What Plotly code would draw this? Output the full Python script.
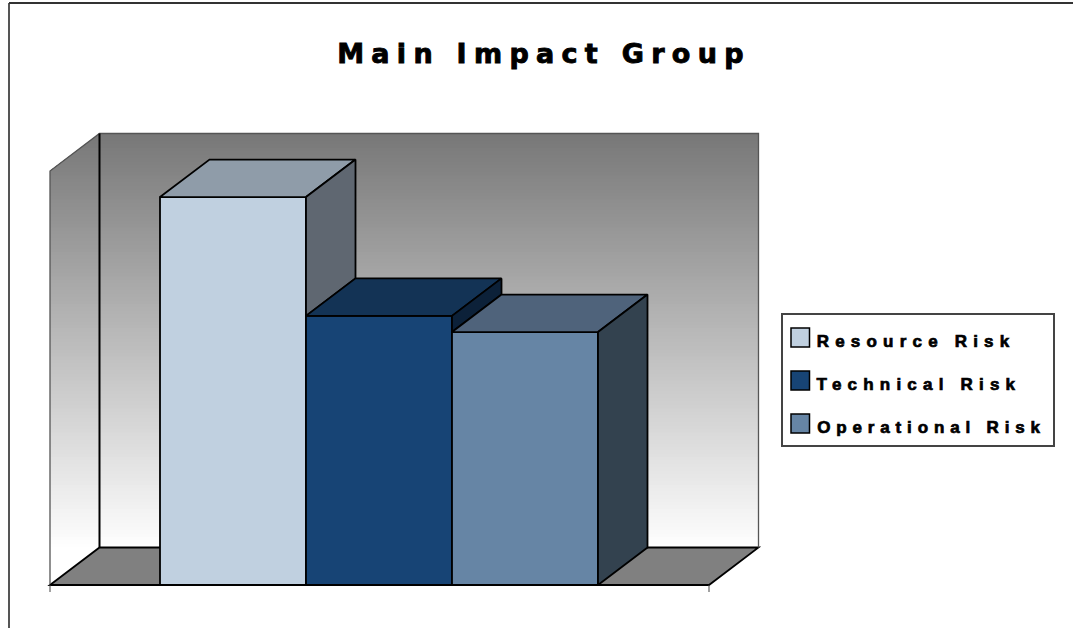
import plotly.graph_objects as go

TITLE = "Main Impact Group"
SERIES = ["Resource Risk", "Technical Risk", "Operational Risk"]
VALUES = [93.7, 65.0, 61.1]
FRONT = ["#C0D0E0", "#174475", "#6685A5"]
TOP = ["#8F9CA9", "#133355", "#4F637B"]
SIDE = ["#5F6771", "#0C2139", "#33424F"]
LEGEND_CENTER = [916.5, 919, 932]
LEGEND_Y = [342, 385, 428]

W, H = 1073, 628
# pixel scale of the plot: bars are one x-unit wide, value axis 0..100
PX_X0, PX_UNIT = 233.0, 146.0
PX_Y0, PX_VAL = 585.0, 4.14
DX, DY = 49.5 / PX_UNIT, 37.5 / PX_VAL
XL, XR = (50 - PX_X0) / PX_UNIT, (709 - PX_X0) / PX_UNIT
YMAX = 100.0
LW = 1.8

fig = go.Figure()
shapes = []


def poly(pts):
    return "M " + " L ".join(f"{x},{y}" for x, y in pts) + " Z"


def grey(t):
    v = int(round(120 + 135 * t))
    return f"rgb({v},{v},{v})"


# gradient walls: painted top-down, each band reaching to the wall's foot
STEPS = 120
for i in range(STEPS):
    t = i / (STEPS - 1)
    y = YMAX + DY - (YMAX) * t
    col = grey(t)
    shapes.append(dict(type="path", layer="below", line_width=0, fillcolor=col,
                       path=poly([(XL + DX, y), (XR + DX, y), (XR + DX, DY), (XL + DX, DY)])))
for i in range(STEPS):
    t = i / (STEPS - 1)
    y = YMAX + DY - YMAX * t
    col = grey(t)
    # left wall polygon clipped to this band's height
    y_front = min(y, YMAX)
    pts = [(XL, y_front)]
    if y > YMAX:
        pts.append((XL + DX * (y - YMAX) / DY, y))
    pts += [(XL + DX, y), (XL + DX, DY), (XL, 0)]
    shapes.append(dict(type="path", layer="below", line_width=0, fillcolor=col, path=poly(pts)))

# floor
shapes.append(dict(type="path", layer="below", fillcolor="#808080", line=dict(color="black", width=LW),
                   path=poly([(XL, 0), (XL + DX, DY), (XR + DX, DY), (XR, 0)])))
# wall edges
shapes.append(dict(type="path", layer="below", line=dict(color="#555555", width=1.3),
                   path=f"M {XL},0 L {XL},{YMAX} L {XL+DX},{YMAX+DY} L {XR+DX},{YMAX+DY} L {XR+DX},{DY}"))
shapes.append(dict(type="line", layer="below", x0=XL + DX, x1=XL + DX, y0=DY, y1=YMAX + DY,
                   line=dict(color="black", width=2)))
# axis line and end ticks
shapes.append(dict(type="line", x0=XL, x1=XR, y0=0, y1=0, line=dict(color="black", width=2)))
for xx in (XL, XR):
    shapes.append(dict(type="line", x0=xx, x1=xx, y0=0, y1=-7 / PX_VAL, line=dict(color="#444444", width=1)))

# front faces
for i, (name, val) in enumerate(zip(SERIES, VALUES)):
    fig.add_trace(go.Bar(x=[i], y=[val], width=1, name=name, marker=dict(color=FRONT[i], line=dict(color="black", width=LW)),
                         showlegend=False, hoverinfo="name+y"))

# top and side faces, back to front
for i, val in enumerate(VALUES):
    l, r = i - 0.5, i + 0.5
    fig.add_trace(go.Scatter(x=[l, l + DX, r + DX, r, l], y=[val, val + DY, val + DY, val, val], mode="lines",
                             fill="toself", fillcolor=TOP[i], line=dict(color="black", width=LW),
                             showlegend=False, hoverinfo="skip"))
    nxt = VALUES[i + 1] if i + 1 < len(VALUES) else 0
    fig.add_trace(go.Scatter(x=[r, r + DX, r + DX, r, r], y=[val, val + DY, nxt + DY, nxt, val], mode="lines",
                             fill="toself", fillcolor=SIDE[i], line=dict(color="black", width=LW),
                             showlegend=False, hoverinfo="skip"))


def px(x):
    return x / W


def py(y):
    return 1 - y / H


# outer frame
shapes.append(dict(type="line", xref="paper", yref="paper", x0=px(9), x1=px(9), y0=py(3), y1=py(H),
                   line=dict(color="#555555", width=2)))
shapes.append(dict(type="line", xref="paper", yref="paper", x0=px(9), x1=px(W), y0=py(3), y1=py(3),
                   line=dict(color="#333333", width=2)))
# legend box
shapes.append(dict(type="rect", xref="paper", yref="paper", x0=px(782), x1=px(1054), y0=py(314), y1=py(446),
                   fillcolor="white", line=dict(color="#444444", width=2)))
annotations = []
for i, name in enumerate(SERIES):
    yc = LEGEND_Y[i]
    shapes.append(dict(type="rect", xref="paper", yref="paper", x0=px(791), x1=px(809.5), y0=py(yc - 14), y1=py(yc + 5),
                       fillcolor=FRONT[i], line=dict(color="black", width=1.5)))
    annotations.append(dict(text=name, xref="paper", yref="paper", x=px(LEGEND_CENTER[i]), y=py(yc - 1), xanchor="center",
                            yanchor="middle", showarrow=False,
                            font=dict(family="Liberation Sans", size=17, color="black", weight="bold")))

fig.update_layout(
    width=W, height=H, margin=dict(l=0, r=0, t=0, b=0), autosize=False,
    paper_bgcolor="white", plot_bgcolor="white", barmode="overlay", showlegend=False,
    title=dict(text=TITLE, x=544 / W, xanchor="center", y=py(54), yanchor="middle",
               font=dict(family="DejaVu Sans", size=27, color="black", weight="bold")),
    xaxis=dict(visible=False, range=[(0 - PX_X0) / PX_UNIT, (W - PX_X0) / PX_UNIT], domain=[0, 1]),
    yaxis=dict(visible=False, range=[(PX_Y0 - H) / PX_VAL, PX_Y0 / PX_VAL], domain=[0, 1]),
    shapes=shapes, annotations=annotations,
)

post = """
document.documentElement.style.margin='0';
document.body.style.margin='0';
document.body.style.overflow='hidden';
document.querySelectorAll('.gtitle').forEach(function(e){e.style.letterSpacing='7.3px';e.style.stroke='black';e.style.strokeWidth='0.9px';});
document.querySelectorAll('.annotation-text').forEach(function(e){
  e.style.letterSpacing = e.textContent.indexOf('Operational')===0 ? '5.85px' : '6.2px';
  e.style.stroke='black';e.style.strokeWidth='0.7px';});
"""
fig.write_html("out.html", post_script=post, config=dict(displayModeBar=False))
